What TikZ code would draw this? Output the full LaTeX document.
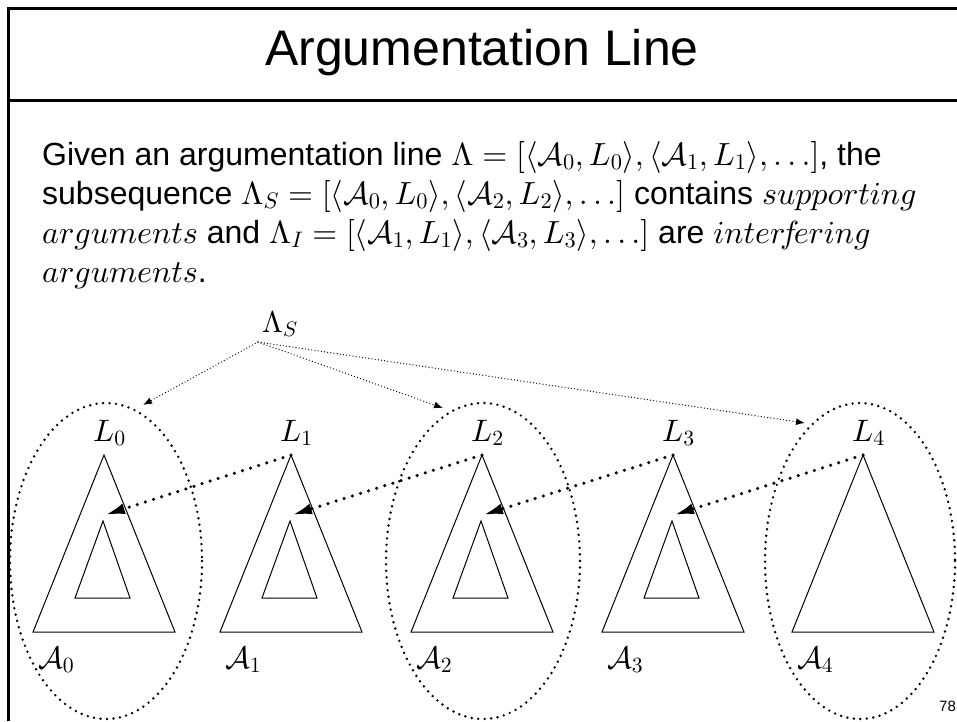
\documentclass[tikz,border=0pt]{standalone}
\usepackage[no-math]{fontspec}
\setmainfont{Liberation Sans}
\DeclareFontShape{OML}{cmm}{m}{it}{<-6>cmmi5<6-8>cmmi7<8->cmmi10}{}
\DeclareFontShape{OMS}{cmsy}{m}{n}{<-6>cmsy5<6-8>cmsy7<8->cmsy10}{}
\DeclareFontShape{OT1}{cmr}{m}{n}{<-6>cmr5<6-8>cmr7<8->cmr10}{}
\DeclareFontShape{OMX}{cmex}{m}{n}{<->cmex10}{}
\usetikzlibrary{arrows.meta}
\begin{document}
\begin{tikzpicture}[x=1pt,y=-1pt,
  frame/.style={line width=3pt},
  tri/.style={line width=1pt, line join=miter},
  ell/.style={line width=2.7pt, dash pattern=on 0pt off 6.5pt, line cap=round},
  thinarr/.style={line width=1.3pt, dash pattern=on 0pt off 3.2pt, line cap=round, -{Latex[length=9pt,width=7pt]}},
  thickarr/.style={line width=3.5pt, dash pattern=on 0pt off 8.5pt, line cap=round, -{Latex[length=20pt,width=11pt]}},
  lab/.style={inner sep=0pt, anchor=base west, font=\fontsize{31}{31}\selectfont},
  body/.style={inner sep=0pt, anchor=base west, font=\fontsize{32}{39}\selectfont}]
\fill[white] (0,0) rectangle (957,721);
\useasboundingbox (0,0) rectangle (957,721);
% frame
\coordinate (ftl) at (8,8);
\coordinate (ftr) at (957,8);
\coordinate (fml) at (8,100);
\coordinate (fmr) at (957,100);
\coordinate (fbl) at (8,721);
\draw[frame] (ftr) -- (ftl) -- (fbl);
\draw[frame] (fml) -- (fmr);
% title
\node[inner sep=0pt, anchor=base, font=\fontsize{50}{50}\selectfont] (title) at (482,65) {Argumentation Line};
% body text
\node[body] (line1) at (42,165) {Given an argumentation line $\Lambda = [\langle\mathcal{A}_0, L_0\rangle, \langle\mathcal{A}_1, L_1\rangle, \ldots]$, the};
\node[body] (line2) at (42,204) {subsequence $\Lambda_S = [\langle\mathcal{A}_0, L_0\rangle, \langle\mathcal{A}_2, L_2\rangle, \ldots]$ contains $supporting$};
\node[body] (line3) at (42,243) {$arguments$ and $\Lambda_I = [\langle\mathcal{A}_1, L_1\rangle, \langle\mathcal{A}_3, L_3\rangle, \ldots]$ are $inter\!f\!ering$};
\node[body] (line4) at (42,282) {$arguments$.};
% Lambda_S
\node[lab, font=\fontsize{30}{30}\selectfont] (LS) at (262,332) {$\Lambda_S$};
\coordinate (src) at (258,342);
% ellipses
\draw[ell] (106,561) ellipse [x radius=96, y radius=158];
\draw[ell] (483,561) ellipse [x radius=97, y radius=158];
\draw[ell] (860,561) ellipse [x radius=95, y radius=158];
\coordinate (e0) at (143,405);
\coordinate (e2) at (443,408);
\coordinate (e4) at (805,423);
\draw[thinarr] (src) -- (e0);
\draw[thinarr] (src) -- (e2);
\draw[thinarr] (src) -- (e4);
% triangles
\foreach \i/\x in {0/104,1/291,2/482,3/673,4/863} {
  \coordinate (apex\i) at (\x,455);
  \draw[tri] (apex\i) -- (\x-71,632) -- (\x+71,632) -- cycle;
  \node[lab] (L\i) at (\x-11,441) {$L_{\i}$};
  \node[lab] (A\i) at (\x-66,668) {$\mathcal{A}_{\i}$};
}
\foreach \i/\x in {0/104,1/291,2/482,3/673} {
  \coordinate (inner\i) at (\x-1,521);
  \coordinate (tgt\i) at (\x+1,515);
  \draw[tri] (inner\i) -- (\x-29,598) -- (\x+26,598) -- cycle;
}
\draw[thickarr] (apex1) -- (tgt0);
\draw[thickarr] (apex2) -- (tgt1);
\draw[thickarr] (apex3) -- (tgt2);
\draw[thickarr] (apex4) -- (tgt3);
% page number
\node[inner sep=0pt, anchor=base west, font=\fontsize{15}{15}\selectfont] (pg) at (939,711) {78};
\end{tikzpicture}
\end{document}
